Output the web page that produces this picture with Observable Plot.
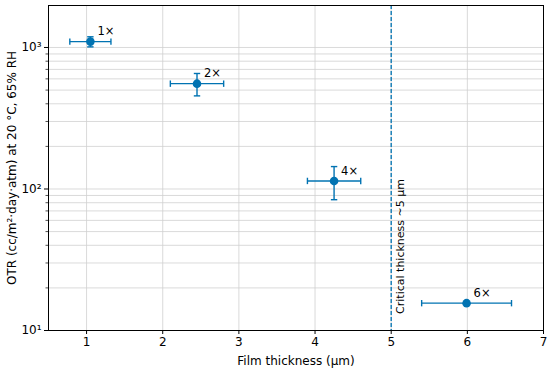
<!DOCTYPE html>
<html><head><meta charset="utf-8">
<script src="https://cdn.jsdelivr.net/npm/d3@7"></script>
<script src="https://cdn.jsdelivr.net/npm/@observablehq/plot@0.6"></script>
<style>body{margin:0;background:#fff}svg{font-family:"DejaVu Sans",sans-serif}</style>
</head><body><div id="chart"></div>
<script>
const labels = ["1×", "2×", "4×", "6×"];
const thickness = [1.05, 2.45, 4.25, 5.99];
const thicknessErr = [0.27, 0.35, 0.35, 0.59];
const otr = [1100, 555, 114, 15.6];
const otrErr = [90, 100, 30, 0];
const xTicks = [1, 2, 3, 4, 5, 6, 7];
const yTicks = [10, 100, 1000];
const yTickLabels = ["10¹", "10²", "10³"];
const criticalThickness = 5;
const criticalLabel = "Critical thickness ~5 μm";

const blue = "#0173B2";
const data = labels.map((l, i) => ({label: l, x: thickness[i], xe: thicknessErr[i], y: otr[i], ye: otrErr[i]}));
const yErrData = data.filter(d => d.ye > 0);
const minor = [];
for (const dec of [10, 100, 1000]) for (let k = 2; k <= 9; k++) { const v = dec * k; if (v <= 1980) minor.push(v); }

const vline = {draw(ctx, size) { const r = Math.sqrt(size / Math.PI); ctx.moveTo(0, -r); ctx.lineTo(0, r); }};
const hline = {draw(ctx, size) { const r = Math.sqrt(size / Math.PI); ctx.moveTo(-r, 0); ctx.lineTo(r, 0); }};

const chart = Plot.plot({
  width: 550, height: 368,
  marginLeft: 48, marginRight: 7, marginTop: 5, marginBottom: 38,
  style: {fontSize: "12px", fontFamily: "DejaVu Sans, sans-serif", color: "#000", background: "#fff"},
  x: {domain: [0.5, 7]},
  y: {type: "log", domain: [10, 1980]},
  marks: [
    Plot.ruleY(minor, {stroke: "#d0d0d0", strokeWidth: 0.8}),
    Plot.ruleY(yTicks, {stroke: "#d0d0d0", strokeWidth: 0.8}),
    Plot.ruleX(xTicks, {stroke: "#d0d0d0", strokeWidth: 0.8}),
    Plot.axisX(xTicks, {tickFormat: d => String(d), tickSize: 4, tickPadding: 3, fontSize: 12, label: "Film thickness (μm)", labelAnchor: "center", labelArrow: "none", labelOffset: 34}),
    Plot.axisY(yTicks, {tickFormat: d => yTickLabels[yTicks.indexOf(d)], tickSize: 4, tickPadding: 3, fontSize: 12, label: "OTR (cc/m²·day·atm) at 20 °C, 65% RH", labelAnchor: "center", labelArrow: "none", labelOffset: 41}),
    Plot.axisY(minor, {tickFormat: () => "", tickSize: 2.5, label: null, strokeWidth: 0.7}),
    Plot.ruleX([criticalThickness], {stroke: blue, strokeWidth: 1.3, strokeDasharray: "4,2"}),
    Plot.text([criticalLabel], {x: criticalThickness, y: 13.1, rotate: -90, textAnchor: "start", dx: 9, fontSize: 11, fill: "#000"}),
    Plot.link(data, {x1: d => d.x - d.xe, x2: d => d.x + d.xe, y1: "y", y2: "y", stroke: blue, strokeWidth: 1.4}),
    Plot.link(yErrData, {x1: "x", x2: "x", y1: d => d.y - d.ye, y2: d => d.y + d.ye, stroke: blue, strokeWidth: 1.4}),
    Plot.dot(data, {x: d => d.x - d.xe, y: "y", symbol: vline, r: 3.2, stroke: blue, strokeWidth: 1.4}),
    Plot.dot(data, {x: d => d.x + d.xe, y: "y", symbol: vline, r: 3.2, stroke: blue, strokeWidth: 1.4}),
    Plot.dot(yErrData, {x: "x", y: d => d.y - d.ye, symbol: hline, r: 3.2, stroke: blue, strokeWidth: 1.4}),
    Plot.dot(yErrData, {x: "x", y: d => d.y + d.ye, symbol: hline, r: 3.2, stroke: blue, strokeWidth: 1.4}),
    Plot.dot(data, {x: "x", y: "y", r: 4.3, fill: blue, stroke: "none"}),
    Plot.text(data, {x: "x", y: "y", text: "label", dx: 7, dy: -10, textAnchor: "start", fontSize: 11.5, fill: "#000"}),
    Plot.frame({stroke: "#000", strokeWidth: 1})
  ]
});
document.getElementById("chart").appendChild(chart);
</script>
</body></html>
